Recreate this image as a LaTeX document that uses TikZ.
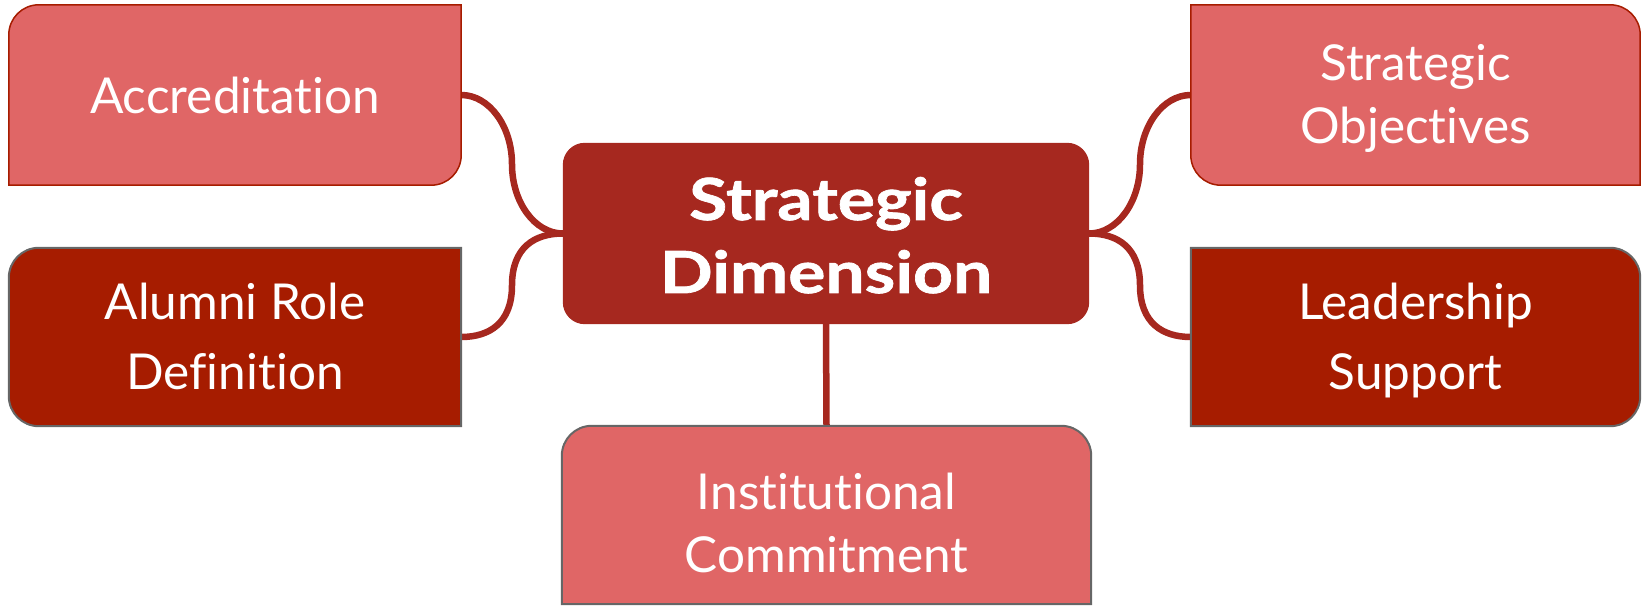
\documentclass[tikz,border=0pt]{standalone}
\usepackage{fontspec}
\setmainfont{Lato}[Ligatures=NoCommon]
\usetikzlibrary{calc,backgrounds}
\definecolor{lightred}{HTML}{E06666}
\definecolor{darkred}{HTML}{A61C00}
\definecolor{centred}{HTML}{A6281F}
\definecolor{edgered}{HTML}{A61C00}
\definecolor{edgegray}{HTML}{666666}
\newcommand{\bstrut}{\rule[-10pt]{0pt}{54pt}}
\newcommand{\tstrut}{\rule[-7pt]{0pt}{51pt}}
\newcommand{\cstrut}{\rule[-10pt]{0pt}{66pt}}
\begin{document}
\begin{tikzpicture}[x=1pt,y=1pt,
  boxtext/.style={inner sep=0pt, text=white, align=center, font=\fontsize{49.5pt}{67pt}\selectfont},
  centtext/.style={inner sep=0pt, text=white, align=center, font=\fontsize{58pt}{73pt}\selectfont\bfseries\addfontfeature{FakeStretch=1.2,FakeBold=1.2}},
  link/.style={draw=centred, line width=6.5pt},
  lightbox/.style={fill=lightred, draw=edgered, line width=1.5pt},
  darkbox/.style={fill=darkred, draw=edgegray, line width=2pt},
  graylightbox/.style={fill=lightred, draw=edgegray, line width=2pt}]
\useasboundingbox (0,0) rectangle (1642,606);
\node[boxtext, minimum width=452pt, minimum height=180pt] (acc) at (235,511) {\tstrut Accreditation};
\node[boxtext, font=\fontsize{49.5pt}{70pt}\selectfont, minimum width=452pt, minimum height=178pt] (alu) at (235,269) {\bstrut Alumni Role\\\bstrut Definition};
\node[centtext, minimum width=526pt, minimum height=181pt] (cen) at (826,372.5) {\cstrut Strategic\\\cstrut Dimension};
\node[boxtext, font=\fontsize{49.5pt}{63pt}\selectfont, minimum width=449pt, minimum height=180pt] (sob) at (1415.5,511) {\tstrut Strategic\\\tstrut Objectives};
\node[boxtext, font=\fontsize{49.5pt}{70pt}\selectfont, minimum width=449pt, minimum height=178pt] (lea) at (1415.5,269) {\bstrut Leadership\\\bstrut Support};
\node[boxtext, minimum width=529pt, minimum height=178pt] (ins) at (826.5,91) {};
\node[boxtext, font=\fontsize{49.5pt}{63pt}\selectfont] (instext) at ([yshift=-8.5pt]ins.center) {\bstrut Institutional\\\bstrut Commitment};
\coordinate (m1) at ($(acc.east)!0.5!(cen.west)$);
\coordinate (m2) at ($(alu.east)!0.5!(cen.west)$);
\coordinate (m3) at ($(cen.east)!0.5!(sob.west)$);
\coordinate (m4) at ($(cen.east)!0.5!(lea.west)$);
\begin{pgfonlayer}{background}
  % connectors
  \draw[link] (acc.east) .. controls +(28,0) and +(0,38) .. (m1) .. controls +(0,-38) and +(-28,0) .. (cen.west);
  \draw[link] (alu.east) .. controls +(28,0) and +(0,-38) .. (m2) .. controls +(0,38) and +(-28,0) .. (cen.west);
  \draw[link] (cen.east) .. controls +(28,0) and +(0,-38) .. (m3) .. controls +(0,38) and +(-28,0) .. (sob.west);
  \draw[link] (cen.east) .. controls +(28,0) and +(0,38) .. (m4) .. controls +(0,-38) and +(-28,0) .. (lea.west);
  \draw[link] (cen.south) -- (ins.north);
  % boxes
  \path[lightbox] (acc.south west) -- ([yshift=-30pt]acc.north west) arc[start angle=180,end angle=90,radius=30pt] -- (acc.north east) -- ([yshift=30pt]acc.south east) arc[start angle=0,end angle=-90,radius=30pt] -- cycle;
  \path[darkbox] (alu.north east) -- ([xshift=30pt]alu.north west) arc[start angle=90,end angle=180,radius=30pt] -- ([yshift=30pt]alu.south west) arc[start angle=180,end angle=270,radius=30pt] -- (alu.south east) -- cycle;
  \path[lightbox] (sob.north west) -- ([xshift=-30pt]sob.north east) arc[start angle=90,end angle=0,radius=30pt] -- (sob.south east) -- ([xshift=30pt]sob.south west) arc[start angle=270,end angle=180,radius=30pt] -- cycle;
  \path[darkbox] (lea.north west) -- ([xshift=-30pt]lea.north east) arc[start angle=90,end angle=0,radius=30pt] -- ([yshift=30pt]lea.south east) arc[start angle=0,end angle=-90,radius=30pt] -- (lea.south west) -- cycle;
  \path[graylightbox] (ins.south west) -- ([yshift=-30pt]ins.north west) arc[start angle=180,end angle=90,radius=30pt] -- ([xshift=-30pt]ins.north east) arc[start angle=90,end angle=0,radius=30pt] -- (ins.south east) -- cycle;
  \fill[centred, rounded corners=22pt] (cen.south west) rectangle (cen.north east);
\end{pgfonlayer}
\end{tikzpicture}
\end{document}
